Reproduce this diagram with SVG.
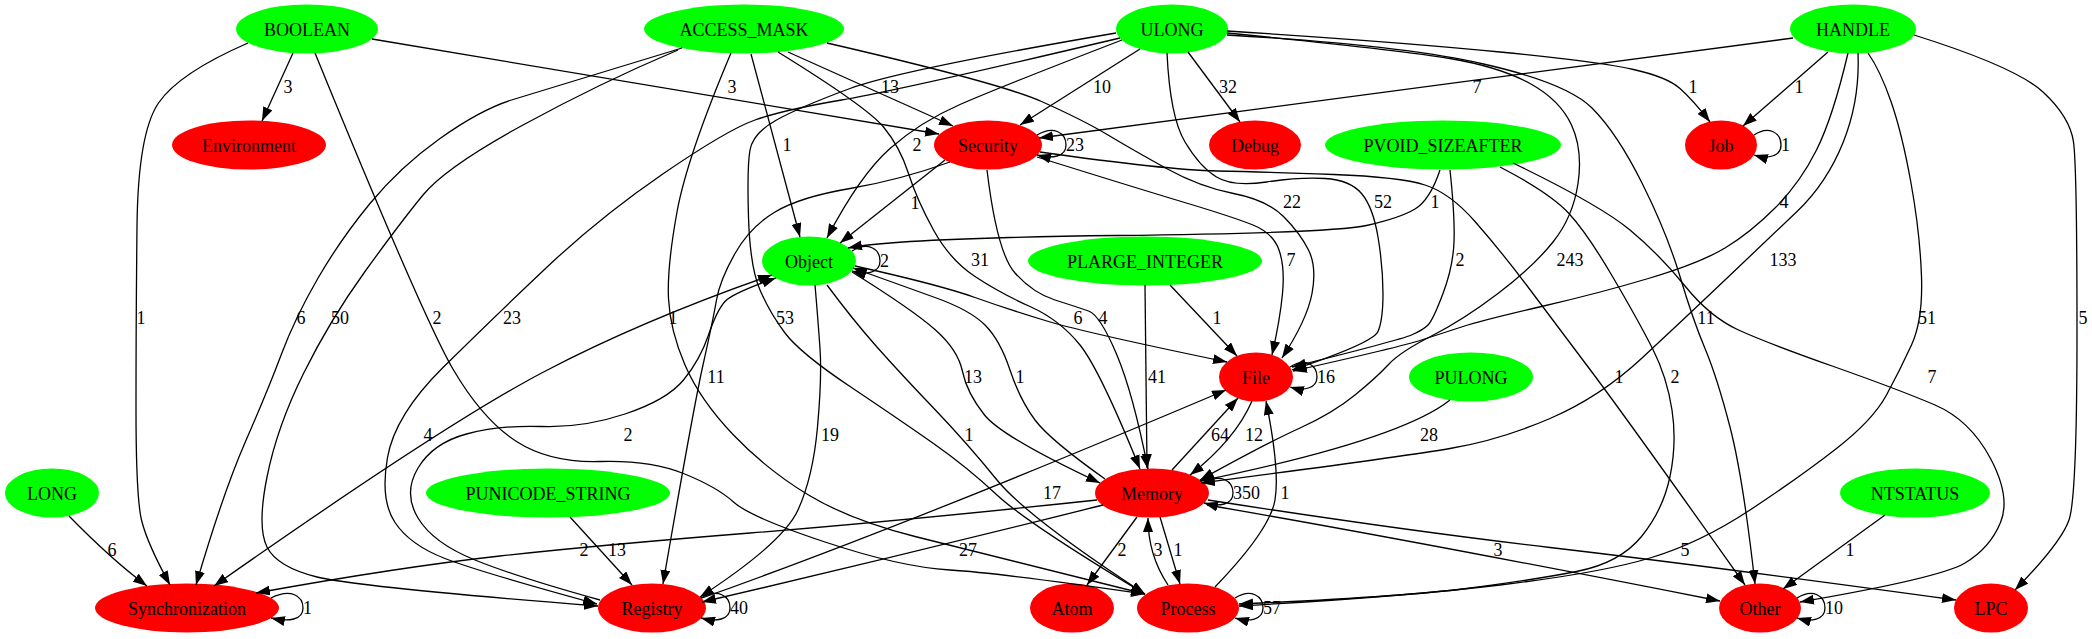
<svg xmlns="http://www.w3.org/2000/svg" width="2092" height="639" viewBox="0 0 2092 639">
<style>
.g{fill:#00ff00}
.r{fill:#ff0000}
.nt{font-family:"Liberation Serif","Times New Roman",serif;font-size:18px;text-anchor:middle;fill:#000}
.e{fill:none;stroke:#000;stroke-width:1.3;marker-end:url(#ah)}
.lb{font-family:"Liberation Serif","Times New Roman",serif;font-size:18px;text-anchor:middle;fill:#000}
.ls{text-anchor:start}
</style>
<defs>
<marker id="ah" viewBox="0 0 14 10" refX="14" refY="5" markerWidth="14" markerHeight="10" markerUnits="userSpaceOnUse" orient="auto"><path d="M0,0L14,5L0,10z" fill="#000"/></marker>
<marker id="ahs" viewBox="0 0 14 10" refX="14" refY="5" markerWidth="14" markerHeight="10" markerUnits="userSpaceOnUse" orient="auto-start-reverse"><path d="M0,0L14,5L0,10z" fill="#000"/></marker>
</defs>
<rect width="2092" height="639" fill="#fff"/>
<g id="n-BOOLEAN"><ellipse class="g" cx="307" cy="29" rx="71" ry="24.5"/><text class="nt" x="307" y="35.5">BOOLEAN</text></g>
<g id="n-ACCESS_MASK"><ellipse class="g" cx="744" cy="29" rx="100" ry="24.5"/><text class="nt" x="744" y="35.5">ACCESS_MASK</text></g>
<g id="n-ULONG"><ellipse class="g" cx="1172" cy="29" rx="56" ry="24.5"/><text class="nt" x="1172" y="35.5">ULONG</text></g>
<g id="n-HANDLE"><ellipse class="g" cx="1853" cy="29" rx="63" ry="24.5"/><text class="nt" x="1853" y="35.5">HANDLE</text></g>
<g id="n-Environment"><ellipse class="r" cx="249" cy="145" rx="77" ry="24.5"/><text class="nt" x="249" y="151.5">Environment</text></g>
<g id="n-Security"><ellipse class="r" cx="988" cy="145" rx="54" ry="24.5"/><text class="nt" x="988" y="151.5">Security</text></g>
<g id="n-Debug"><ellipse class="r" cx="1255" cy="145" rx="46" ry="24.5"/><text class="nt" x="1255" y="151.5">Debug</text></g>
<g id="n-PVOID_SIZEAFTER"><ellipse class="g" cx="1443" cy="145" rx="118" ry="24.5"/><text class="nt" x="1443" y="151.5">PVOID_SIZEAFTER</text></g>
<g id="n-Job"><ellipse class="r" cx="1721" cy="145" rx="36" ry="24.5"/><text class="nt" x="1721" y="151.5">Job</text></g>
<g id="n-Object"><ellipse class="g" cx="809" cy="261" rx="47" ry="24.5"/><text class="nt" x="809" y="267.5">Object</text></g>
<g id="n-PLARGE_INTEGER"><ellipse class="g" cx="1145" cy="261" rx="117" ry="24.5"/><text class="nt" x="1145" y="267.5">PLARGE_INTEGER</text></g>
<g id="n-File"><ellipse class="r" cx="1256" cy="377" rx="37" ry="24.5"/><text class="nt" x="1256" y="383.5">File</text></g>
<g id="n-PULONG"><ellipse class="g" cx="1471" cy="377" rx="62" ry="24.5"/><text class="nt" x="1471" y="383.5">PULONG</text></g>
<g id="n-LONG"><ellipse class="g" cx="52" cy="493" rx="47" ry="24.5"/><text class="nt" x="52" y="499.5">LONG</text></g>
<g id="n-PUNICODE_STRING"><ellipse class="g" cx="548" cy="493" rx="122" ry="24.5"/><text class="nt" x="548" y="499.5">PUNICODE_STRING</text></g>
<g id="n-Memory"><ellipse class="r" cx="1152" cy="493" rx="57" ry="24.5"/><text class="nt" x="1152" y="499.5">Memory</text></g>
<g id="n-NTSTATUS"><ellipse class="g" cx="1915" cy="493" rx="75" ry="24.5"/><text class="nt" x="1915" y="499.5">NTSTATUS</text></g>
<g id="n-Synchronization"><ellipse class="r" cx="187" cy="608" rx="92" ry="24.5"/><text class="nt" x="187" y="614.5">Synchronization</text></g>
<g id="n-Registry"><ellipse class="r" cx="652" cy="608" rx="54" ry="24.5"/><text class="nt" x="652" y="614.5">Registry</text></g>
<g id="n-Atom"><ellipse class="r" cx="1072" cy="608" rx="42" ry="24.5"/><text class="nt" x="1072" y="614.5">Atom</text></g>
<g id="n-Process"><ellipse class="r" cx="1188" cy="608" rx="51" ry="24.5"/><text class="nt" x="1188" y="614.5">Process</text></g>
<g id="n-Other"><ellipse class="r" cx="1760" cy="608" rx="41" ry="24.5"/><text class="nt" x="1760" y="614.5">Other</text></g>
<g id="n-LPC"><ellipse class="r" cx="1991" cy="608" rx="37" ry="24.5"/><text class="nt" x="1991" y="614.5">LPC</text></g>
<g id="connectors">
<path class="e" d="M293,53 L262,121"/>
<path class="e" d="M372,39 L939,134"/>
<path class="e" d="M248,43 Q179,73 158.5,103 Q138,133 137,226.5 Q136,320 136,408.5 Q136,497 141.5,520 Q147,543 170,585"/>
<path class="e" d="M315,53 Q424,320 453.5,370 Q483,420 516.5,441.5 Q550,463 600,461.5 Q650,460 683.5,473.5 Q717,487 733.5,502 Q750,517 825,542 Q900,567 950,570 Q1000,573 1145,594"/>
<path class="e" d="M682,48 Q543,90 511.5,100 Q480,110 440,138.5 Q400,167 370,203.5 Q340,240 317.5,279 Q295,318 281.5,354 Q268,390 245.5,441.5 Q223,493 196,585"/>
<path class="e" d="M678,50 Q600,83 523,125 Q446,167 423,195 Q400,223 365,271.5 Q330,320 303.5,373.5 Q277,427 267,477 Q257,527 267,547 Q277,567 317,577 Q357,587 598,606"/>
<path class="e" d="M751,54 L800,237"/>
<path class="e" d="M788,52 L953,126"/>
<path class="e" d="M778,52 Q867,107 883.5,127 Q900,147 908.5,173.5 Q917,200 933.5,230 Q950,260 975,276.5 Q1000,293 1030,306.5 Q1060,320 1080,345 Q1100,370 1140,469"/>
<path class="e" d="M827,43 Q1000,83 1041.5,101.5 Q1083,120 1108,135 Q1133,150 1166.5,168.5 Q1200,187 1233.5,193.5 Q1267,200 1283.5,216.5 Q1300,233 1308.5,250 Q1317,267 1312,293.5 Q1307,320 1282,358"/>
<path class="e" d="M731,53 Q687,157 677,212 Q667,267 668.5,298.5 Q670,330 685,365 Q700,400 733.5,435 Q767,470 808.5,495 Q850,520 915,536.5 Q980,553 1145,594"/>
<path class="e" d="M1140,49 L1020,125"/>
<path class="e" d="M1188,52 L1240,122"/>
<path class="e" d="M1122,40 Q1000,87 960,104.5 Q920,122 890,148.5 Q860,175 827,238"/>
<path class="e" d="M1120,38 Q900,90 841.5,100 Q783,110 755,120 Q727,130 663.5,173.5 Q600,217 545.5,268.5 Q491,320 443,367.5 Q395,415 387.5,457.5 Q380,500 395,522.5 Q410,545 445,558.5 Q480,572 597,604"/>
<path class="e" d="M1116,33 Q900,70 850,88.5 Q800,107 776.5,120 Q753,133 750,150 Q747,167 748.5,217 Q750,267 760,290 Q770,313 785,333 Q800,353 850,386.5 Q900,420 933.5,443.5 Q967,467 997,495 Q1027,523 1145,594"/>
<path class="e" d="M1167,53 Q1170,117 1185,142 Q1200,167 1216.5,177 Q1233,187 1266.5,182 Q1300,177 1325,178.5 Q1350,180 1361.5,193.5 Q1373,207 1378,237 Q1383,267 1383,293.5 Q1383,320 1378,331.5 Q1373,343 1292,370"/>
<path class="e" d="M1227,33 Q1400,50 1450,58.5 Q1500,67 1530,83.5 Q1560,100 1571.5,125 Q1583,150 1578,183.5 Q1573,217 1553,242 Q1533,267 1498,293.5 Q1463,320 1431.5,336 Q1400,352 1388.5,364.5 Q1377,377 1355,395 Q1333,413 1300,428 Q1267,443 1200,480"/>
<path class="e" d="M1227,35 Q1400,45 1483.5,64 Q1567,83 1592,108 Q1617,133 1642,183 Q1667,233 1680,276.5 Q1693,320 1705,348.5 Q1717,377 1730,427 Q1743,477 1755,584"/>
<path class="e" d="M1227,31 Q1400,42 1500,52 Q1600,62 1633.5,69.5 Q1667,77 1680,88.5 Q1693,100 1710,122"/>
<path class="e" d="M1793,38 L1039,138"/>
<path class="e" d="M1828,52 L1743,126"/>
<path class="e" d="M1848,53 Q1833,117 1816.5,150 Q1800,183 1775,208 Q1750,233 1725,248 Q1700,263 1650,278 Q1600,293 1541.5,306.5 Q1483,320 1463,326.5 Q1443,333 1421.5,340 Q1400,347 1293,371"/>
<path class="e" d="M1858,53 Q1860,100 1843.5,141.5 Q1827,183 1797,211.5 Q1767,240 1725,280 Q1683,320 1641.5,358.5 Q1600,397 1550,418.5 Q1500,440 1450,448.5 Q1400,457 1201,483"/>
<path class="e" d="M1868,53 Q1880,70 1891,101.5 Q1902,133 1911,183 Q1920,233 1921.5,276.5 Q1923,320 1911.5,345 Q1900,370 1886.5,395 Q1873,420 1836.5,448.5 Q1800,477 1750,510 Q1700,543 1650,558 Q1600,573 1500,585 Q1400,597 1239,606"/>
<path class="e" d="M1914,35 Q2016,67 2043,92 Q2070,117 2073.5,142 Q2077,167 2077,332 Q2077,497 2069,520 Q2061,543 2015,590"/>
<path class="e" d="M1440,170 Q1430,200 1415,209 Q1400,218 1366.5,225.5 Q1333,233 1116.5,235.5 Q900,238 848,248"/>
<path class="e" d="M1450,170 Q1455,217 1454,242 Q1453,267 1443,293.5 Q1433,320 1428,325 Q1423,330 1411.5,335 Q1400,340 1292,367"/>
<path class="e" d="M1500,167 Q1550,193 1568.5,213 Q1587,233 1612.5,276.5 Q1638,320 1652.5,348.5 Q1667,377 1672,410 Q1677,443 1670,476.5 Q1663,510 1641.5,536.5 Q1620,563 1576.5,571.5 Q1533,580 1466.5,588.5 Q1400,597 1239,604"/>
<path class="e" d="M1513,163 Q1600,205 1630,230 Q1660,255 1685,286 Q1710,317 1738.5,330 Q1767,343 1833.5,366.5 Q1900,390 1935,405 Q1970,420 1990.5,458.5 Q2011,497 2000.5,522.5 Q1990,548 1965,563 Q1940,578 1800,602"/>
<path class="e" d="M945,160 L840,243"/>
<path class="e" d="M950,162 Q900,180 850,188.5 Q800,197 775,212 Q750,227 735,253.5 Q720,280 716.5,300 Q713,320 703,365 Q693,410 663,584"/>
<path class="e" d="M987,170 Q997,253 1015,273 Q1033,293 1055,300 Q1077,307 1088.5,311 Q1100,315 1116.5,354 Q1133,393 1148,469"/>
<path class="e" d="M1037,157 Q1133,187 1183,202 Q1233,217 1253,225 Q1273,233 1279,250 Q1285,267 1282.5,293.5 Q1280,320 1272,355"/>
<path class="e" d="M1040,152 Q1167,170 1217,171 Q1267,172 1333.5,174.5 Q1400,177 1425,185 Q1450,193 1475,221.5 Q1500,250 1526.5,285 Q1553,320 1593,373.5 Q1633,427 1745,585"/>
<path class="e" style="marker-start:url(#ahs)" d="M772,275 Q643,320 544.5,371.5 Q446,423 214,586"/>
<path class="e" d="M600,600 Q517,577 475,560 Q433,543 418,518 Q403,493 418,468 Q433,443 466.5,434 Q500,425 541.5,426.5 Q583,428 625,414 Q667,400 683.5,380 Q700,360 708.5,335 Q717,310 725,301.5 Q733,293 776,278"/>
<path class="e" d="M815,285 Q818,320 820,348.5 Q822,377 817.5,427 Q813,477 798,510 Q783,543 700,597"/>
<path class="e" d="M855,266 Q940,285 975,297.5 Q1010,310 1048.5,321.5 Q1087,333 1227,362"/>
<path class="e" d="M827,285 Q853,320 876.5,346.5 Q900,373 933.5,408 Q967,443 997,480 Q1027,517 1145,594"/>
<path class="e" d="M852,272 Q913,310 935.5,330 Q958,350 962.5,371.5 Q967,393 984.5,415 Q1002,437 1100,483"/>
<path class="e" d="M1105,479 Q1050,440 1035,420 Q1020,400 1010,370 Q1000,340 985,325 Q970,310 935,297.5 Q900,285 853,268"/>
<path class="e" d="M1145,285 L1147,468"/>
<path class="e" d="M1170,285 L1237,356"/>
<path class="e" d="M1252,401 Q1235,440 1190,475"/>
<path class="e" d="M1172,470 L1238,398"/>
<path class="e" d="M1215,587 Q1270,530 1275,500 Q1280,470 1266,401"/>
<path class="e" d="M702,598 Q900,528 1226,390"/>
<path class="e" d="M1450,400 Q1400,440 1200,481"/>
<path class="e" d="M1097,500 Q900,521 750,533 Q600,545 500,556 Q400,567 256,593"/>
<path class="e" d="M1103,505 Q900,556 702,602"/>
<path class="e" d="M1137,517 L1087,585"/>
<path class="e" d="M1160,517 L1180,584"/>
<path class="e" d="M1168,585 Q1148,555 1148,518"/>
<path class="e" d="M1207,505 Q1400,538 1720,601"/>
<path class="e" d="M1208,500 Q1400,530 1550,547.5 Q1700,565 1956,600"/>
<path class="e" d="M1885,515 L1783,589"/>
<path class="e" d="M570,517 L632,585"/>
<path class="e" d="M69,516 Q112,560 147,586"/>
<path class="e" d="M1037,135 C1054,125 1066,133 1066,145 C1066,157 1052,159 1037,155"/>
<path class="e" d="M852,251 C868,241 880,249 880,261 C880,273 866,275 852,271"/>
<path class="e" d="M1290,367 C1305,357 1317,365 1317,377 C1317,389 1303,391 1290,387"/>
<path class="e" d="M1204,483 C1221,473 1233,481 1233,493 C1233,505 1219,507 1204,503"/>
<path class="e" d="M1235,598 C1251,588 1263,596 1263,608 C1263,620 1249,622 1235,618"/>
<path class="e" d="M701,598 C718,588 730,596 730,608 C730,620 716,622 701,618"/>
<path class="e" d="M1797,598 C1813,588 1825,596 1825,608 C1825,620 1811,622 1797,618"/>
<path class="e" d="M1754,135 C1769,125 1781,133 1781,145 C1781,157 1767,159 1754,155"/>
<path class="e" d="M271,598 C291,588 303,596 303,608 C303,620 289,622 271,618"/>
<g id="edge-labels">
<text class="lb" x="288" y="93">3</text>
<text class="lb" x="732" y="93">3</text>
<text class="lb" x="141" y="324">1</text>
<text class="lb" x="437" y="324">2</text>
<text class="lb" x="301" y="324">6</text>
<text class="lb" x="340" y="324">50</text>
<text class="lb" x="787" y="151">1</text>
<text class="lb" x="890" y="93">13</text>
<text class="lb" x="980" y="266">31</text>
<text class="lb" x="1292" y="208">22</text>
<text class="lb" x="673" y="324">1</text>
<text class="lb" x="1102" y="93">10</text>
<text class="lb" x="1228" y="93">32</text>
<text class="lb" x="917" y="151">2</text>
<text class="lb" x="512" y="324">23</text>
<text class="lb" x="785" y="324">53</text>
<text class="lb" x="1383" y="208">52</text>
<text class="lb" x="1570" y="266">243</text>
<text class="lb" x="1706" y="324">11</text>
<text class="lb" x="1693" y="93">1</text>
<text class="lb" x="1477" y="93">7</text>
<text class="lb" x="1799" y="93">1</text>
<text class="lb" x="1784" y="208">4</text>
<text class="lb" x="1783" y="266">133</text>
<text class="lb" x="1927" y="324">51</text>
<text class="lb" x="2083" y="324">5</text>
<text class="lb" x="1435" y="208">1</text>
<text class="lb" x="1460" y="266">2</text>
<text class="lb" x="1675" y="383">2</text>
<text class="lb" x="1932" y="383">7</text>
<text class="lb" x="915" y="209">1</text>
<text class="lb" x="716" y="383">11</text>
<text class="lb" x="1103" y="324">4</text>
<text class="lb" x="1291" y="266">7</text>
<text class="lb" x="1619" y="383">1</text>
<text class="lb" x="428" y="441">4</text>
<text class="lb" x="830" y="441">19</text>
<text class="lb" x="1078" y="324">6</text>
<text class="lb" x="969" y="441">1</text>
<text class="lb" x="973" y="383">13</text>
<text class="lb" x="1020" y="383">1</text>
<text class="lb" x="628" y="441">2</text>
<text class="lb" x="1157" y="383">41</text>
<text class="lb" x="1217" y="324">1</text>
<text class="lb" x="1254" y="441">12</text>
<text class="lb" x="1220" y="441">64</text>
<text class="lb" x="1285" y="499">1</text>
<text class="lb" x="1052" y="499">17</text>
<text class="lb" x="1429" y="441">28</text>
<text class="lb" x="584" y="556">2</text>
<text class="lb" x="968" y="556">27</text>
<text class="lb" x="1122" y="556">2</text>
<text class="lb" x="1178" y="556">1</text>
<text class="lb" x="1158" y="556">3</text>
<text class="lb" x="1498" y="556">3</text>
<text class="lb" x="1685" y="556">5</text>
<text class="lb" x="1850" y="556">1</text>
<text class="lb" x="617" y="556">13</text>
<text class="lb" x="112" y="556">6</text>
<text class="lb ls" x="1066" y="151">23</text>
<text class="lb ls" x="880" y="267">2</text>
<text class="lb ls" x="1317" y="383">16</text>
<text class="lb ls" x="1233" y="499">350</text>
<text class="lb ls" x="1263" y="614">57</text>
<text class="lb ls" x="730" y="614">40</text>
<text class="lb ls" x="1825" y="614">10</text>
<text class="lb ls" x="1781" y="151">1</text>
<text class="lb ls" x="303" y="614">1</text>
</g>
</g>
</svg>
